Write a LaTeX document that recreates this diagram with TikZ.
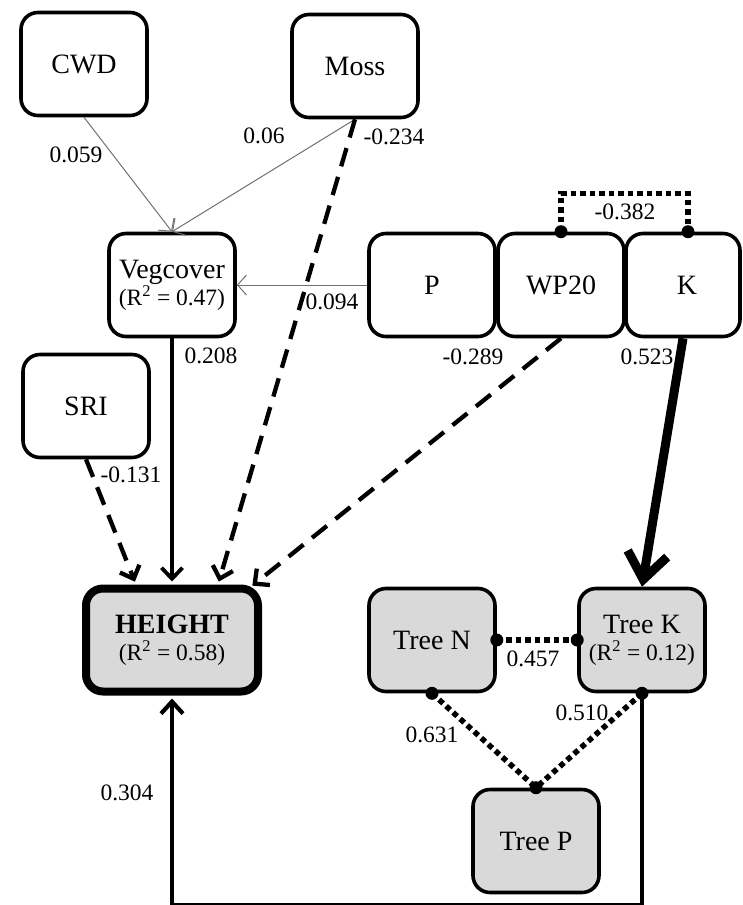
\documentclass[tikz,border=0pt]{standalone}
\usepackage{fontspec}
\setmainfont{Liberation Serif}
\usetikzlibrary{arrows.meta,calc}
\definecolor{boxgray}{HTML}{D9D9D9}
\definecolor{thingray}{HTML}{707070}
\newcommand\rsqfont{\fontsize{23.5}{26}\selectfont}
\begin{document}
\begin{tikzpicture}[x=1pt,y=-1pt,
  box/.style={draw, line width=3.6pt, rounded corners=17pt, minimum width=126pt, minimum height=103pt,
    font=\fontsize{28}{30}\selectfont, align=center, inner sep=0pt},
  gbox/.style={box, fill=boxgray},
  lab/.style={font=\fontsize{23.5}{26}\selectfont, inner sep=0pt},
  thinarr/.style={draw=thingray, line width=1pt, -{Straight Barb[length=9pt,width=20pt,line width=1pt]}},
  solidarr/.style={line width=3.8pt, shorten >=3pt, -{Straight Barb[length=11pt,width=21pt]}},
  dasharr/.style={solidarr, line width=4.3pt, dash pattern=on 19pt off 11pt},
  dotline/.style={line width=5.5pt, dash pattern=on 5.5pt off 4pt},
  dot/.style={circle, fill, inner sep=0pt, minimum size=13pt}
]
\useasboundingbox (0,0) rectangle (742,905);

% nodes
\node[box] (CWD) at (84,64) {CWD};
\node[box] (Moss) at (355,66) {Moss};
\node[box] (Veg) at (172,285) {Vegcover\\[-3pt]{\rsqfont (R\textsuperscript{2} = 0.47)}};
\node[box] (SRI) at (86,406) {SRI};
\node[box] (P) at (432,285) {P};
\node[box] (WP) at (561,285) {WP20};
\node[box, minimum width=114pt] (K) at (683,285) {\hspace*{8pt}K};
\node[gbox, line width=8pt, minimum width=172pt, minimum height=103pt] (H) at (172,640)
  {\textbf{HEIGHT}\\[-3pt]{\rsqfont (R\textsuperscript{2} = 0.58)}};
\node[gbox] (TN) at (432,640) {Tree N};
\node[gbox] (TK) at (642,640) {Tree K\\[-3pt]{\rsqfont (R\textsuperscript{2} = 0.12)}};
\node[gbox] (TP) at (536,841) {Tree P};

% thin arrows to Vegcover
\draw[thinarr] (CWD.south) -- (Veg.north);
\draw[thinarr] (Moss.south) -- (Veg.north);
\draw[thinarr] (P.west) -- (Veg.east);

% arrows to HEIGHT
\draw[solidarr] (Veg.south) -- (H.north);
\draw[dasharr] (SRI.south) -- ($(H.north)+(-36,0)$);
\draw[dasharr] (Moss.south) -- ($(H.north)+(46,0)$);
\draw[dasharr] (WP.south) -- ($(H.north east)+(-12,3)$);

% K -> Tree K
\draw[line width=9pt, -{Straight Barb[length=26pt,width=40pt]}] (K.south) -- (TK.north);

% correlations
\coordinate (Kt) at ($(K.north)+(5,0)$);
\node[dot] (d1) at (WP.north) {};
\node[dot] (d2) at (Kt) {};
\draw[dotline] (d1.center) -- ($(d1.center)+(0,-38)$) -| (d2.center);

\node[dot] (d3) at (TN.east) {};
\node[dot] (d4) at (TK.west) {};
\draw[dotline] (d3.center) -- (d4.center);
\node[dot] (d5) at (TN.south) {};
\node[dot] (d6) at (TK.south) {};
\node[dot] (d7) at (TP.north) {};
\draw[dotline] (d5.center) -- (d7.center);
\draw[dotline] (d6.center) -- (d7.center);

% Tree K -> HEIGHT
\coordinate (bot) at (0,905);
\draw[line width=4.2pt, -{Straight Barb[length=12pt,width=22pt]}, shorten >=3pt]
  (TK.south) -- (TK.south |- bot) -| (H.south);

% labels
\node[lab] (l1) at (76,155) {0.059};
\node[lab] (l2) at (264,136) {0.06};
\node[lab] (l3) at (394,137) {-0.234};
\node[lab] (l4) at (332,302) {0.094};
\node[lab] (l5) at (211,356) {0.208};
\node[lab] (l6) at (473,357) {-0.289};
\node[lab] (l7) at (647,357) {0.523};
\node[lab] (l8) at (625,212) {-0.382};
\node[lab] (l9) at (131,475) {-0.131};
\node[lab] (l10) at (533,659) {0.457};
\node[lab] (l11) at (582,713) {0.510};
\node[lab] (l12) at (432,735) {0.631};
\node[lab] (l13) at (127,793) {0.304};
\end{tikzpicture}
\end{document}
